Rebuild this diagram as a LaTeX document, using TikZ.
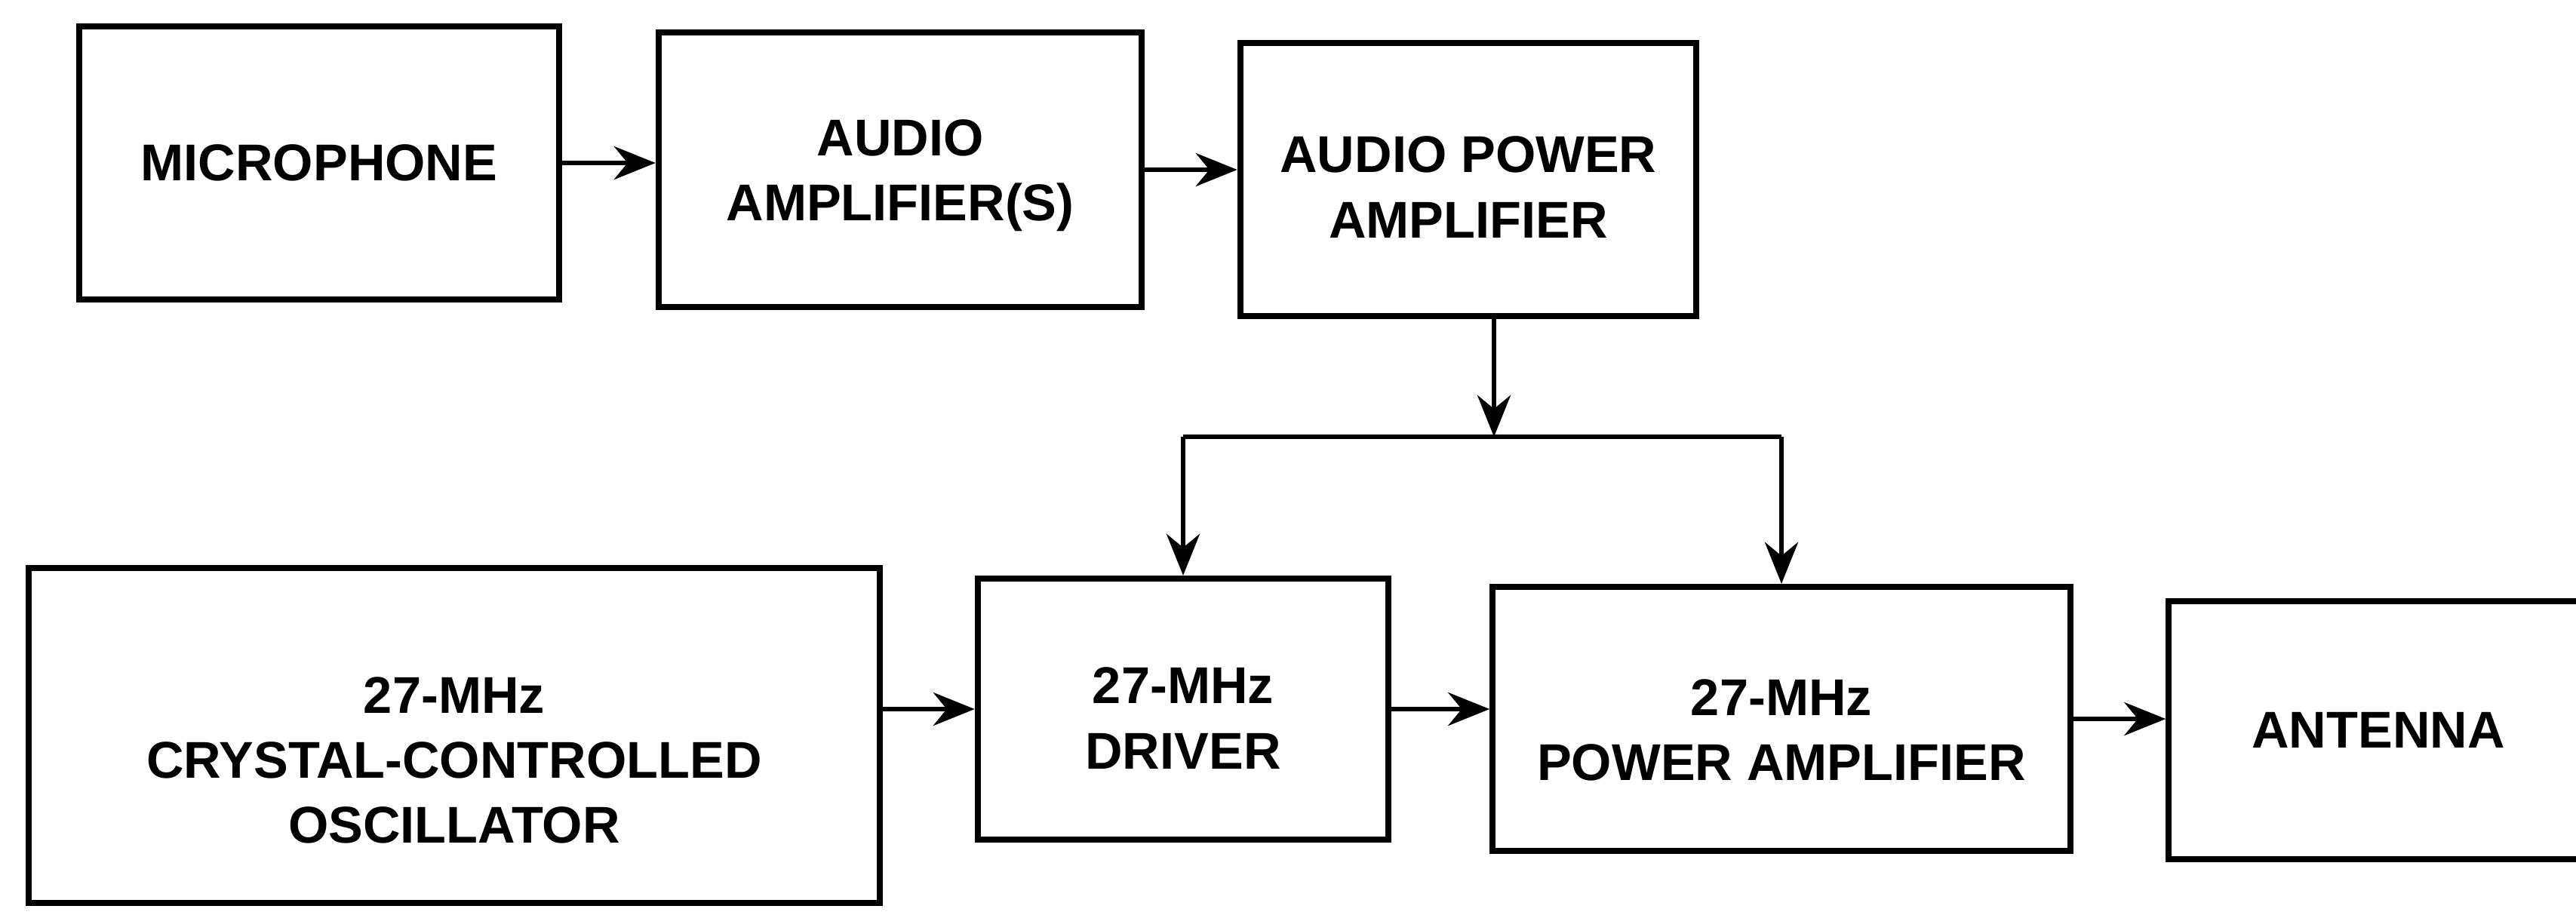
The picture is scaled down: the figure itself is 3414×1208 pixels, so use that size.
\documentclass[tikz,border=0pt]{standalone}
\usepackage{fontspec}
\setmainfont{Liberation Sans}
\usetikzlibrary{arrows.meta}
\tikzset{
BLOCK/.style={draw=black,line width=2.3pt,inner sep=0pt},
TAG/.style={align=center,inner sep=0pt,font=\fontsize{19.5}{24.5}\selectfont\bfseries},
LINK/.style={draw=black,line width=1.8pt,-{Stealth[length=5.5mm,width=4.4mm,inset=1.8mm]}},
WIRE/.style={draw=black,line width=1.6pt,line join=miter},
}
\begin{document}
\begin{tikzpicture}
[x=0.01cm, y=-0.01cm]
	\useasboundingbox (0,0) rectangle (3414,1208);
	\clip (0,0) rectangle (3414,1208);
	\node[BLOCK, minimum width=6.36cm, minimum height=3.61cm,
		label={[TAG,name=mictext]center:MICROPHONE}] (mic) at (423,216) {};
	\node[BLOCK, minimum width=6.40cm, minimum height=3.63cm,
		label={[TAG,name=audtext,yshift=-0.08cm]center:AUDIO\\AMPLIFIER(S)}] (aud) at (1193,225) {};
	\node[BLOCK, minimum width=6.04cm, minimum height=3.62cm,
		label={[TAG,name=apatext,yshift=-0.10cm]center:AUDIO POWER\\AMPLIFIER}] (apa) at (1946,238) {};
	\node[BLOCK, minimum width=11.28cm, minimum height=4.43cm,
		label={[TAG,name=osctext,yshift=-0.33cm]center:27-MHz\\CRYSTAL-CONTROLLED\\OSCILLATOR}] (osc) at (602,975) {};
	\node[BLOCK, minimum width=5.44cm, minimum height=3.46cm,
		label={[TAG,name=drvtext,yshift=-0.12cm]center:27-MHz\\DRIVER}] (drv) at (1568,940) {};
	\node[BLOCK, minimum width=7.65cm, minimum height=3.50cm,
		label={[TAG,name=patext,yshift=-0.15cm]center:27-MHz\\POWER AMPLIFIER}] (pa) at (2361,953) {};
	\node[BLOCK, minimum width=5.55cm, minimum height=3.41cm,
		label={[TAG,name=anttext]center:ANTENNA}] (ant) at (3152,968) {};
	\coordinate (split) at (1980,579);
	\draw[LINK] (mic.east) -- (mic.east -| aud.west);
	\draw[LINK] (aud.east) -- (aud.east -| apa.west);
	\draw[LINK] (apa.south -| split) -- (split);
	\draw[WIRE] (drv.north |- split) -- (pa.north |- split);
	\draw[LINK] (drv.north |- split) -- (drv.north);
	\draw[LINK] (pa.north |- split) -- (pa.north);
	\draw[LINK] (osc.east |- drv.west) -- (drv.west);
	\draw[LINK] (drv.east) -- (drv.east -| pa.west);
	\draw[LINK] (pa.east) -- (pa.east -| ant.west);
\end{tikzpicture}
\end{document}
